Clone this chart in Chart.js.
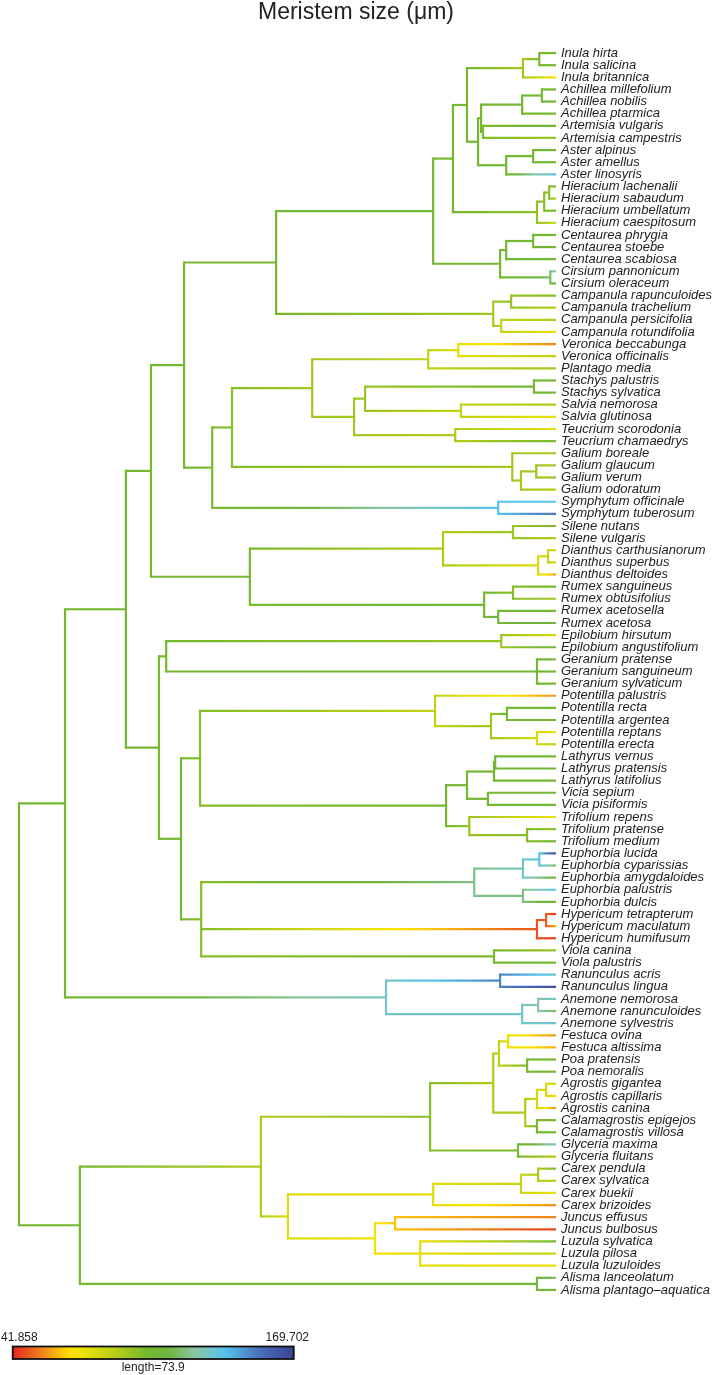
<!DOCTYPE html>
<html>
<head>
<meta charset="utf-8">
<title>Meristem size</title>
<script src="https://cdn.jsdelivr.net/npm/chart.js@4.4.1/dist/chart.umd.min.js"></script>
<style>
    html, body { margin: 0; padding: 0; background: #fff; }
    canvas { display: block; }
</style>
</head>
<body>
<canvas id="tree-chart" width="712" height="1375"></canvas>
<script>
// Tip labels, top to bottom, and the trait value read for each tip
var tipNames = [
    'Inula hirta', 'Inula salicina', 'Inula britannica',
    'Achillea millefolium', 'Achillea nobilis', 'Achillea ptarmica',
    'Artemisia vulgaris', 'Artemisia campestris',
    'Aster alpinus', 'Aster amellus', 'Aster linosyris',
    'Hieracium lachenalii', 'Hieracium sabaudum', 'Hieracium umbellatum', 'Hieracium caespitosum',
    'Centaurea phrygia', 'Centaurea stoebe', 'Centaurea scabiosa',
    'Cirsium pannonicum', 'Cirsium oleraceum',
    'Campanula rapunculoides', 'Campanula trachelium', 'Campanula persicifolia', 'Campanula rotundifolia',
    'Veronica beccabunga', 'Veronica officinalis', 'Plantago media',
    'Stachys palustris', 'Stachys sylvatica', 'Salvia nemorosa', 'Salvia glutinosa',
    'Teucrium scorodonia', 'Teucrium chamaedrys',
    'Galium boreale', 'Galium glaucum', 'Galium verum', 'Galium odoratum',
    'Symphytum officinale', 'Symphytum tuberosum',
    'Silene nutans', 'Silene vulgaris',
    'Dianthus carthusianorum', 'Dianthus superbus', 'Dianthus deltoides',
    'Rumex sanguineus', 'Rumex obtusifolius', 'Rumex acetosella', 'Rumex acetosa',
    'Epilobium hirsutum', 'Epilobium angustifolium',
    'Geranium pratense', 'Geranium sanguineum', 'Geranium sylvaticum',
    'Potentilla palustris', 'Potentilla recta', 'Potentilla argentea', 'Potentilla reptans', 'Potentilla erecta',
    'Lathyrus vernus', 'Lathyrus pratensis', 'Lathyrus latifolius',
    'Vicia sepium', 'Vicia pisiformis',
    'Trifolium repens', 'Trifolium pratense', 'Trifolium medium',
    'Euphorbia lucida', 'Euphorbia cyparissias', 'Euphorbia amygdaloides', 'Euphorbia palustris', 'Euphorbia dulcis',
    'Hypericum tetrapterum', 'Hypericum maculatum', 'Hypericum humifusum',
    'Viola canina', 'Viola palustris',
    'Ranunculus acris', 'Ranunculus lingua',
    'Anemone nemorosa', 'Anemone ranunculoides', 'Anemone sylvestris',
    'Festuca ovina', 'Festuca altissima', 'Poa pratensis', 'Poa nemoralis',
    'Agrostis gigantea', 'Agrostis capillaris', 'Agrostis canina',
    'Calamagrostis epigejos', 'Calamagrostis villosa',
    'Glyceria maxima', 'Glyceria fluitans',
    'Carex pendula', 'Carex sylvatica', 'Carex buekii', 'Carex brizoides',
    'Juncus effusus', 'Juncus bulbosus',
    'Luzula sylvatica', 'Luzula pilosa', 'Luzula luzuloides',
    'Alisma lanceolatum', 'Alisma plantago–aquatica'
];

var tipValues = [
    104, 103, 71,
    106, 104, 102,
    106, 93,
    105, 104, 139,
    104, 90, 103, 84,
    106, 105, 104,
    131, 106,
    99, 89, 90, 74,
    55, 87, 93,
    106, 103, 90, 74,
    76, 102,
    93, 93, 95, 89,
    139, 153,
    102, 90,
    83, 84, 58,
    103, 93, 106, 112,
    80, 106,
    116, 106, 103,
    57, 106, 105, 74, 87,
    106, 105, 103,
    106, 105,
    74, 97, 103,
    166, 116, 112, 139, 106,
    44, 60, 46,
    95, 106,
    134, 166,
    131, 118, 134,
    57, 61, 105, 103,
    84, 75, 57,
    103, 106,
    129, 90,
    102, 88, 73, 57,
    55, 46,
    102, 84, 74,
    118, 106
];

// Tree pieces in Newick form. Number before ':' = trait value at the node,
// number after ':' = distance of the node from the root (tips sit at treeDepth).
var cladeAsteraceae =
    '((((Inula_hirta,Inula_salicina)102:136.8,Inula_britannica)93:132.5,' +
    '((((Achillea_millefolium,Achillea_nobilis)105:137.5,Achillea_ptarmica)104:132.3,(Artemisia_vulgaris,Artemisia_campestris)101:122.0)104:121.5,' +
    '((Aster_alpinus,Aster_amellus)105:135.2,Aster_linosyris)106:128.1)104:120.7)103:117.8,' +
    '(((Hieracium_lachenalii,Hieracium_sabaudum)97:139.4,Hieracium_umbellatum)99:138.1,Hieracium_caespitosum)97:136.2)103:114.1,' +
    '(((Centaurea_phrygia,Centaurea_stoebe)105:135.2,Centaurea_scabiosa)105:128.1,(Cirsium_pannonicum,Cirsium_oleraceum)118:139.7)105:126.5)103:108.9';
var cladeCampanula =
    '((Campanula_rapunculoides,Campanula_trachelium)95:129.4,(Campanula_persicifolia,Campanula_rotundifolia)86:126.8)93:124.7';
var cladeLamiales =
    '(((Veronica_beccabunga,Veronica_officinalis)76:115.5,Plantago_media)86:107.6,' +
    '(((Stachys_palustris,Stachys_sylvatica)104:135.4,(Salvia_nemorosa,Salvia_glutinosa)86:116.2)95:91.0,' +
    '(Teucrium_scorodonia,Teucrium_chamaedrys)90:114.7)93:88.1)93:77.1';
var cladeGalium =
    '(Galium_boreale,((Galium_glaucum,Galium_verum)94:136.0,Galium_odoratum)92:132.0)93:129.7';
var cladeCaryophyllales =
    '(((Silene_nutans,Silene_vulgaris)95:129.9,((Dianthus_carthusianorum,Dianthus_superbus)84:139.1,Dianthus_deltoides)78:136.5)90:111.5,' +
    '((Rumex_sanguineus,Rumex_obtusifolius)99:129.9,(Rumex_acetosella,Rumex_acetosa)108:126.0)104:122.3)102:60.7';
var cladeMyrtGeran =
    '((Epilobium_hirsutum,Epilobium_angustifolium)95:126.8,(Geranium_pratense,Geranium_sanguineum,Geranium_sylvaticum)106:136.2)103:38.7';
var cladePotentilla =
    '(Potentilla_palustris,((Potentilla_recta,Potentilla_argentea)105:128.3,(Potentilla_reptans,Potentilla_erecta)80:136.2)93:124.1)86:109.4';
var cladeFabaceae =
    '((((Lathyrus_vernus,Lathyrus_pratensis)105:125.2,Lathyrus_latifolius)105:124.9,(Vicia_sepium,Vicia_pisiformis)105:123.3)104:117.8,' +
    '(Trifolium_repens,(Trifolium_pratense,Trifolium_medium)99:133.6)95:118.4)103:112.3';
var cladeMalpighiales =
    '((((Euphorbia_lucida,Euphorbia_cyparissias)138:136.8,Euphorbia_amygdaloides)131:132.5,(Euphorbia_palustris,Euphorbia_dulcis)121:132.5)121:119.7,' +
    '((Hypericum_tetrapterum,Hypericum_maculatum)50:138.6,Hypericum_humifusum)48:136.2,' +
    '(Viola_canina,Viola_palustris)102:124.9)99:47.9';
var cladeRanunculaceae =
    '((Ranunculus_acris,Ranunculus_lingua)150:126.5,((Anemone_nemorosa,Anemone_ranunculoides)125:136.5,Anemone_sylvestris)131:132.3)131:96.5';
var cladePoaceae =
    '((((Festuca_ovina,Festuca_altissima)74:128.6,(Poa_pratensis,Poa_nemoralis)102:133.6)86:126.2,' +
    '(((Agrostis_gigantea,Agrostis_capillaris)80:138.6,Agrostis_canina)80:136.2,(Calamagrostis_epigejos,Calamagrostis_villosa)102:136.2)90:133.1)90:124.7,' +
    '(Glyceria_maxima,Glyceria_fluitans)102:131.2)99:108.1';
var cladeCyperJuncus =
    '((((Carex_pendula,Carex_sylvatica)90:136.5,Carex_buekii)84:132.0,Carex_brizoides)76:108.9,' +
    '((Juncus_effusus,Juncus_bulbosus)64:98.9,(Luzula_sylvatica,Luzula_pilosa,Luzula_luzuloides)76:105.5)72:93.6)78:70.7';

var treeNewick =
    '(((((((' + cladeAsteraceae + ',' + cladeCampanula + ')103:67.6,' +
    '((' + cladeLamiales + ',' + cladeGalium + ')99:56.0,(Symphytum_officinale,Symphytum_tuberosum)139:126.0)102:50.8)103:43.4,' +
    cladeCaryophyllales + ')103:34.7,' +
    '(' + cladeMyrtGeran + ',((' + cladePotentilla + ',' + cladeFabaceae + ')99:47.6,' + cladeMalpighiales + ')103:42.6)103:36.8)103:28.1,' +
    cladeRanunculaceae + ')103:12.1,' +
    '((' + cladePoaceae + ',' + cladeCyperJuncus + ')90:63.6,(Alisma_lanceolatum,Alisma_plantago–aquatica)108:136.2)103:16.0)103:0';

var treeDepth = 141.2;
var valueMin = 41.858;
var valueMax = 169.702;
var scaleLength = 73.9;

// colour ramp of the trait legend
var colorStops = [0, 0.11, 0.21, 0.35, 0.48, 0.56, 0.65, 0.76, 0.87, 1];
var colorHexes = ['#e42421', '#f08a19', '#fee600', '#bfd215', '#74b72f', '#70b640', '#8ac6a6', '#55c3ee', '#4b74b9', '#3b4294'];

function hexToRgb(hex) {
    return [parseInt(hex.slice(1, 3), 16), parseInt(hex.slice(3, 5), 16), parseInt(hex.slice(5, 7), 16)];
}

function valueColor(v) {
    var t = (v - valueMin) / (valueMax - valueMin);
    if (!isFinite(t)) t = 0.5;
    t = Math.max(0, Math.min(1, t));
    for (var i = 1; i < colorStops.length; i++) {
        if (t <= colorStops[i]) {
            var f = (t - colorStops[i - 1]) / (colorStops[i] - colorStops[i - 1]);
            var a = hexToRgb(colorHexes[i - 1]);
            var b = hexToRgb(colorHexes[i]);
            return 'rgb(' + Math.round(a[0] + (b[0] - a[0]) * f) + ',' +
                Math.round(a[1] + (b[1] - a[1]) * f) + ',' +
                Math.round(a[2] + (b[2] - a[2]) * f) + ')';
        }
    }
    return colorHexes[colorHexes.length - 1];
}

function parseNewick(s) {
    var pos = 0;
    function readNode() {
        var node = { children: [], label: '', depth: null };
        if (s[pos] === '(') {
            pos++;
            node.children.push(readNode());
            while (s[pos] === ',') {
                pos++;
                node.children.push(readNode());
            }
            pos++; // ')'
        }
        while (pos < s.length && ',():'.indexOf(s[pos]) < 0) node.label += s[pos++];
        if (s[pos] === ':') {
            pos++;
            var num = '';
            while (pos < s.length && ',()'.indexOf(s[pos]) < 0) num += s[pos++];
            node.depth = parseFloat(num);
        }
        return node;
    }
    return readNode();
}

function layoutNode(node) {
    if (node.children.length === 0) {
        var idx = tipNames.indexOf(node.label.replace(/_/g, ' '));
        if (idx < 0) console.log('missing tip: ' + node.label);
        node.y = idx;
        node.depth = treeDepth;
        node.value = tipValues[idx];
        return;
    }
    node.children.forEach(layoutNode);
    node.y = (node.children[0].y + node.children[node.children.length - 1].y) / 2;
    node.value = parseFloat(node.label);
}

// gradient along a branch, from the parent's value to the child's value
function branchGradient(x0, x1, v0, v1) {
    return function(context) {
        var chart = context.chart;
        var xs = chart.scales.x;
        if (!chart.chartArea || !xs) return valueColor(v1);
        var p0 = xs.getPixelForValue(x0);
        var p1 = xs.getPixelForValue(x1);
        if (!isFinite(p0) || !isFinite(p1) || p1 - p0 < 1) return valueColor(v1);
        var g = chart.ctx.createLinearGradient(p0, 0, p1, 0);
        for (var k = 0; k <= 12; k++) {
            var t = k / 12;
            g.addColorStop(t, valueColor(v0 + (v1 - v0) * t));
        }
        return g;
    };
}

var datasets = [];

function addBranches(node) {
    if (node.children.length === 0) return;
    node.children.forEach(function(child) {
        datasets.push({
            data: [{ x: node.depth, y: child.y }, { x: child.depth, y: child.y }],
            borderColor: branchGradient(node.depth, child.depth, node.value, child.value),
            borderCapStyle: 'butt'
        });
        addBranches(child);
    });
    var first = node.children[0];
    var last = node.children[node.children.length - 1];
    datasets.push({
        data: [{ x: node.depth, y: first.y }, { x: node.depth, y: last.y }],
        borderColor: valueColor(node.value),
        borderCapStyle: 'square'
    });
}

var tree = parseNewick(treeNewick);
layoutNode(tree);
addBranches(tree);

datasets.forEach(function(d) {
    d.showLine = true;
    d.pointRadius = 0;
    d.borderWidth = 2.2;
    d.clip = false;
});

var colorBarPlugin = {
    id: 'colorBar',
    afterDraw: function(chart) {
        var ctx = chart.ctx;
        var xs = chart.scales.x;
        var left = 12.7;
        var top = 1346.5;
        var h = 12.5;
        var w = xs.getPixelForValue(scaleLength) - xs.getPixelForValue(0);
        if (!isFinite(w)) return;
        var g = ctx.createLinearGradient(left, 0, left + w, 0);
        for (var k = 0; k <= 40; k++) {
            g.addColorStop(k / 40, valueColor(valueMin + (valueMax - valueMin) * k / 40));
        }
        ctx.save();
        ctx.fillStyle = g;
        ctx.fillRect(left, top, w, h);
        ctx.lineWidth = 1.8;
        ctx.strokeStyle = '#111';
        ctx.strokeRect(left, top, w, h);
        ctx.fillStyle = '#222';
        ctx.font = '12px "Liberation Sans", Arial, sans-serif';
        ctx.textBaseline = 'alphabetic';
        ctx.textAlign = 'left';
        ctx.fillText(valueMin.toFixed(3), 1, 1341);
        ctx.textAlign = 'right';
        ctx.fillText(valueMax.toFixed(3), 309, 1341);
        ctx.textAlign = 'center';
        ctx.fillText('length=' + scaleLength, left + w / 2, 1371);
        ctx.restore();
    }
};

var ctx = document.getElementById('tree-chart').getContext('2d');

new Chart(ctx, {
    type: 'scatter',
    data: { datasets: datasets },
    plugins: [colorBarPlugin],
    options: {
        responsive: false,
        animation: false,
        layout: {
            padding: { left: 0, right: 0, top: 0, bottom: 79 }
        },
        plugins: {
            legend: { display: false },
            tooltip: { enabled: false },
            title: {
                display: true,
                text: 'Meristem size (μm)',
                color: '#222',
                font: { family: '"Liberation Sans", Arial, sans-serif', size: 23, weight: 'normal', lineHeight: 1.1 },
                padding: { top: 0, bottom: 21.7 }
            }
        },
        scales: {
            x: {
                type: 'linear',
                display: false,
                min: -5.0,
                max: treeDepth
            },
            y: {
                type: 'linear',
                position: 'right',
                reverse: true,
                min: -0.5,
                max: tipNames.length - 0.5,
                grid: { display: false, drawTicks: false },
                border: { display: false },
                afterBuildTicks: function(axis) {
                    axis.ticks = tipNames.map(function(n, i) { return { value: i }; });
                },
                afterFit: function(axis) {
                    axis.width = 156;
                },
                ticks: {
                    autoSkip: false,
                    padding: 5,
                    color: '#222',
                    font: { family: '"Liberation Sans", Arial, sans-serif', size: 13, style: 'italic' },
                    callback: function(value) {
                        return tipNames[value];
                    }
                }
            }
        }
    }
});
</script>
</body>
</html>
